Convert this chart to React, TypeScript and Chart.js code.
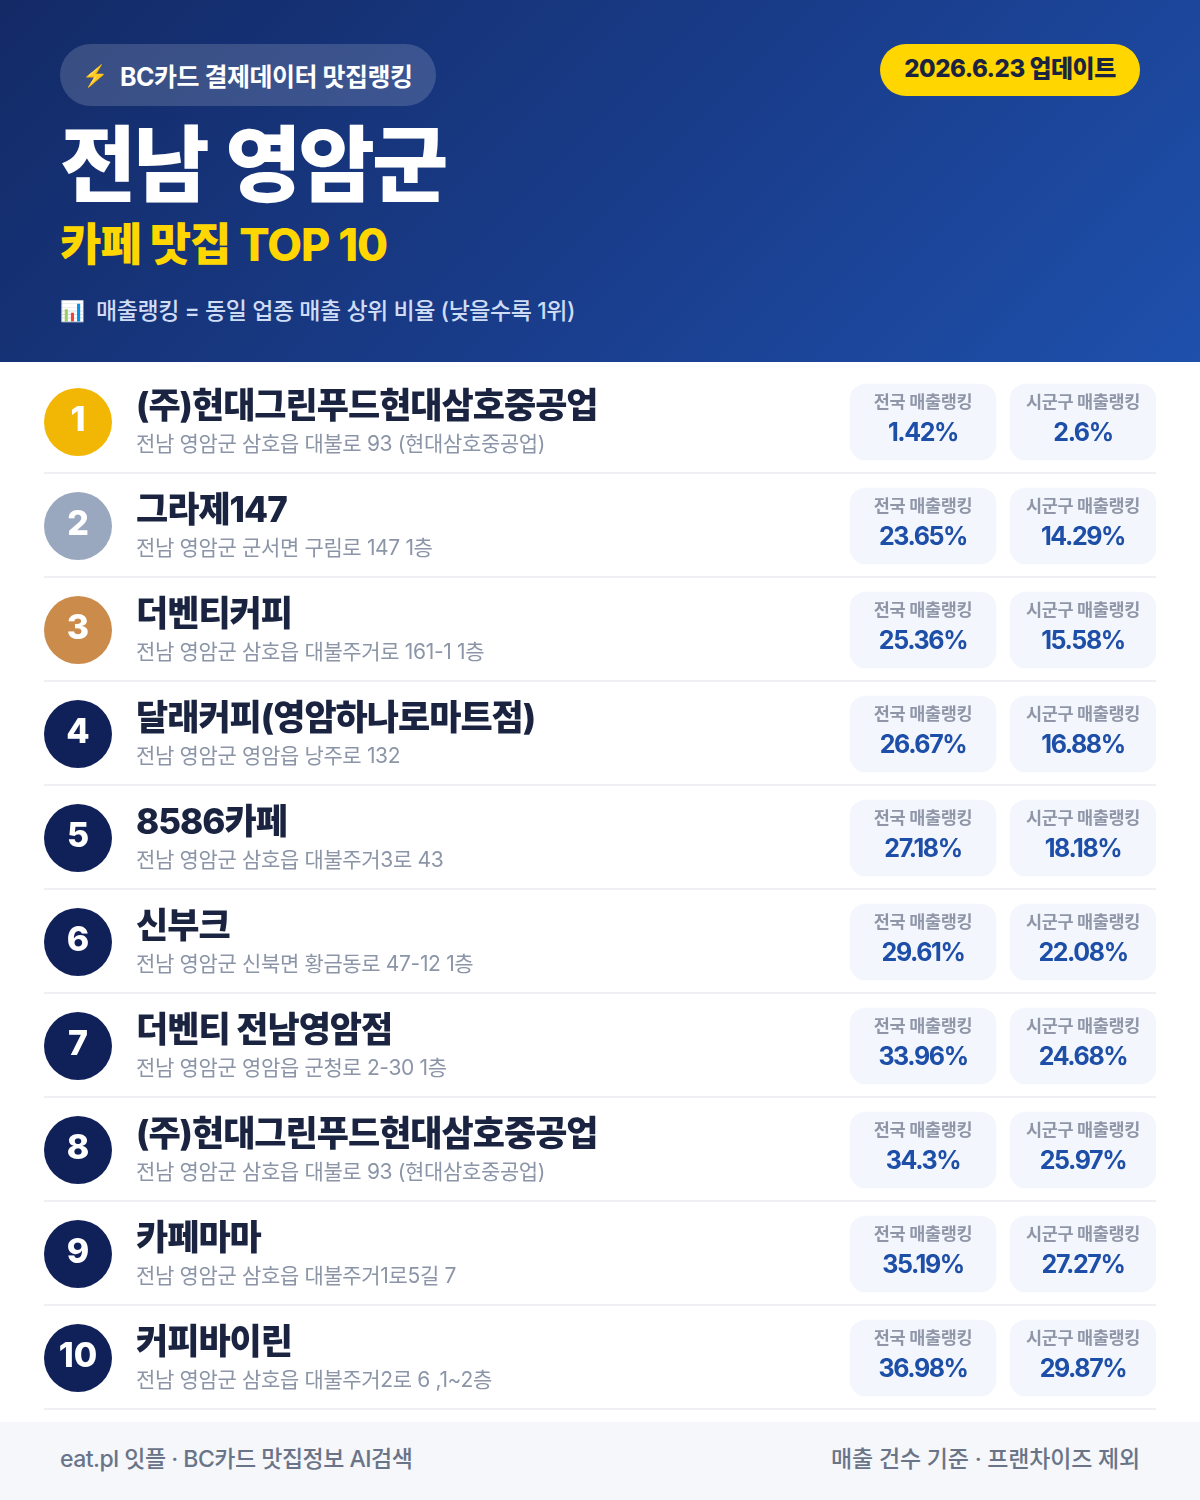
import { useEffect, useRef } from "react";
import { Chart, registerables } from "chart.js";

Chart.register(...registerables);

const FONT = 'Inter, "Noto Sans CJK KR", sans-serif';

const storeNames = [
  "(주)현대그린푸드현대삼호중공업",
  "그라제147",
  "더벤티커피",
  "달래커피(영암하나로마트점)",
  "8586카페",
  "신부크",
  "더벤티 전남영암점",
  "(주)현대그린푸드현대삼호중공업",
  "카페마마",
  "커피바이린",
];
const addresses = [
  "전남 영암군 삼호읍 대불로 93 (현대삼호중공업)",
  "전남 영암군 군서면 구림로 147 1층",
  "전남 영암군 삼호읍 대불주거로 161-1 1층",
  "전남 영암군 영암읍 낭주로 132",
  "전남 영암군 삼호읍 대불주거3로 43",
  "전남 영암군 신북면 황금동로 47-12 1층",
  "전남 영암군 영암읍 군청로 2-30 1층",
  "전남 영암군 삼호읍 대불로 93 (현대삼호중공업)",
  "전남 영암군 삼호읍 대불주거1로5길 7",
  "전남 영암군 삼호읍 대불주거2로 6 ,1~2층",
];
const nationalRank = [1.42, 23.65, 25.36, 26.67, 27.18, 29.61, 33.96, 34.3, 35.19, 36.98];
const districtRank = [2.6, 14.29, 15.58, 16.88, 18.18, 22.08, 24.68, 25.97, 27.27, 29.87];

// x positions are canvas px, the canvas starts at x=44
const CIRCLE_X = 34;
const TEXT_X = 92;
const NATIONAL_CARD = [806, 952];
const DISTRICT_CARD = [966, 1112];

const rankColor = (i: number) =>
  i === 0 ? "#F2B705" : i === 1 ? "#9AA8BF" : i === 2 ? "#CB8B4B" : "#10215A";

const rowRules = {
  id: "rowRules",
  beforeDatasetsDraw(chart: any) {
    const { ctx, scales, chartArea } = chart;
    ctx.save();
    ctx.fillStyle = "#EEF0F4";
    storeNames.forEach((_, i) => {
      ctx.fillRect(chartArea.left, scales.y.getPixelForValue(i) + 50, chartArea.width, 2);
    });
    ctx.restore();
  },
};

const rowText = {
  id: "rowText",
  afterDatasetsDraw(chart: any) {
    const { ctx, scales } = chart;
    const x = scales.x;
    const y = scales.y;
    ctx.save();
    ctx.textBaseline = "alphabetic";
    storeNames.forEach((name, i) => {
      const cy = y.getPixelForValue(i);

      ctx.textAlign = "center";
      ctx.fillStyle = "#ffffff";
      ctx.font = `800 34px ${FONT}`;
      ctx.letterSpacing = "0px";
      ctx.fillText(String(i + 1), x.getPixelForValue(CIRCLE_X), cy + 9);

      ctx.textAlign = "left";
      ctx.fillStyle = "#1A2340";
      ctx.font = `800 35px ${FONT}`;
      ctx.letterSpacing = "-1px";
      ctx.fillText(name, x.getPixelForValue(TEXT_X), cy - 4);

      ctx.fillStyle = "#8B95A7";
      ctx.font = `400 21px ${FONT}`;
      ctx.letterSpacing = "-0.35px";
      ctx.fillText(addresses[i], x.getPixelForValue(TEXT_X), cy + 29);

      ctx.textAlign = "center";
      [
        { range: NATIONAL_CARD, label: "전국 매출랭킹", value: nationalRank[i] },
        { range: DISTRICT_CARD, label: "시군구 매출랭킹", value: districtRank[i] },
      ].forEach((card) => {
        const mid = x.getPixelForValue((card.range[0] + card.range[1]) / 2);
        ctx.fillStyle = "#8F96A8";
        ctx.font = `700 17.5px ${FONT}`;
        ctx.letterSpacing = "-0.35px";
        ctx.fillText(card.label, mid, cy - 14);
        ctx.fillStyle = "#1E4FA8";
        ctx.font = `700 25px ${FONT}`;
        ctx.letterSpacing = "-1.4px";
        ctx.fillText(`${card.value}%`, mid, cy + 19);
      });
    });
    ctx.restore();
  },
};

function RankingChart() {
  const canvasRef = useRef<HTMLCanvasElement>(null);

  useEffect(() => {
    if (!canvasRef.current) return;
    const chart = new Chart(canvasRef.current, {
      type: "bar",
      data: {
        labels: storeNames,
        datasets: [
          {
            type: "scatter",
            label: "순위",
            data: storeNames.map((_, i) => ({ x: CIRCLE_X, y: i })),
            pointRadius: 34,
            pointHoverRadius: 34,
            pointBackgroundColor: storeNames.map((_, i) => rankColor(i)),
            pointBorderWidth: 0,
            clip: false,
          },
          {
            label: "전국 매출랭킹",
            indexAxis: "y",
            data: nationalRank.map(() => NATIONAL_CARD),
            backgroundColor: "#F3F6FC",
            borderRadius: 16,
            borderSkipped: false,
            barThickness: 76,
            grouped: false,
          },
          {
            label: "시군구 매출랭킹",
            indexAxis: "y",
            data: districtRank.map(() => DISTRICT_CARD),
            backgroundColor: "#F3F6FC",
            borderRadius: 16,
            borderSkipped: false,
            barThickness: 76,
            grouped: false,
          },
        ] as any,
      },
      options: {
        animation: false,
        responsive: false,
        events: [],
        layout: { autoPadding: false, padding: { top: 8, bottom: 12 } },
        plugins: { legend: { display: false }, tooltip: { enabled: false } },
        scales: {
          x: { type: "linear", min: 0, max: 1112, offset: false, display: false },
          y: {
            type: "category",
            offset: true,
            border: { display: false },
            ticks: { display: false },
            grid: { display: false, drawTicks: false },
          },
        },
      },
      plugins: [rowRules, rowText],
    } as any);
    return () => chart.destroy();
  }, []);

  return (
    <canvas
      ref={canvasRef}
      width={1112}
      height={1060}
      style={{ position: "absolute", left: 44, top: 362, width: 1112, height: 1060 }}
    />
  );
}

export default function App() {
  useEffect(() => {
    document.body.style.margin = "0";
  }, []);

  return (
    <div
      style={{
        position: "relative",
        width: 1200,
        height: 1500,
        overflow: "hidden",
        background: "#fff",
        fontFamily: FONT,
      }}
    >
      <div
        style={{
          position: "absolute",
          left: 0,
          top: 0,
          width: 1200,
          height: 362,
          background: "linear-gradient(135deg, #132A66 0%, #1A3F8F 60%, #1E50AC 100%)",
        }}
      >
        <div
          style={{
            position: "absolute",
            left: 60,
            top: 44,
            width: 376,
            height: 62,
            borderRadius: 31,
            background: "rgba(255,255,255,0.16)",
          }}
        />
        <div style={{ position: "absolute", left: 82, top: 58, fontSize: 21, lineHeight: "36px", color: "#FFD600" }}>
          ⚡
        </div>
        <div
          style={{
            position: "absolute",
            left: 120,
            top: 59,
            fontSize: 25,
            lineHeight: "36px",
            fontWeight: 700,
            letterSpacing: -0.5,
            color: "#fff",
            whiteSpace: "nowrap",
          }}
        >
          BC카드 결제데이터 맛집랭킹
        </div>
        <div
          style={{
            position: "absolute",
            left: 880,
            top: 44,
            width: 260,
            height: 52,
            borderRadius: 26,
            background: "#FFD600",
            color: "#1A2340",
            fontSize: 24,
            fontWeight: 800,
            letterSpacing: -0.5,
            lineHeight: "50px",
            textAlign: "center",
            whiteSpace: "nowrap",
          }}
        >
          2026.6.23 업데이트
        </div>
        <div
          style={{
            position: "absolute",
            left: 60,
            top: 111,
            fontSize: 83,
            lineHeight: "108px",
            fontWeight: 900,
            letterSpacing: -3,
            wordSpacing: 5,
            color: "#fff",
            whiteSpace: "nowrap",
          }}
        >
          전남 영암군
        </div>
        <div
          style={{
            position: "absolute",
            left: 60,
            top: 213,
            fontSize: 45,
            lineHeight: "64px",
            fontWeight: 800,
            letterSpacing: -1,
            color: "#FFD600",
            whiteSpace: "nowrap",
          }}
        >
          카페 맛집 TOP 10
        </div>
        <div style={{ position: "absolute", left: 60, top: 293, fontSize: 20, lineHeight: "36px" }}>📊</div>
        <div
          style={{
            position: "absolute",
            left: 96,
            top: 293,
            fontSize: 23,
            lineHeight: "36px",
            fontWeight: 500,
            letterSpacing: -0.45,
            color: "#CFDCF5",
            whiteSpace: "nowrap",
          }}
        >
          매출랭킹 = 동일 업종 매출 상위 비율 (낮을수록 1위)
        </div>
      </div>

      <RankingChart />

      <div
        style={{
          position: "absolute",
          left: 0,
          top: 1422,
          width: 1200,
          height: 78,
          background: "#F5F7FA",
          fontSize: 23,
          fontWeight: 500,
          color: "#6A7489",
          lineHeight: "74px",
        }}
      >
        <span style={{ position: "absolute", left: 60, letterSpacing: -0.5, whiteSpace: "nowrap" }}>
          eat.pl 잇플 · BC카드 맛집정보 AI검색
        </span>
        <span style={{ position: "absolute", right: 60, letterSpacing: -0.2, whiteSpace: "nowrap" }}>
          매출 건수 기준 · 프랜차이즈 제외
        </span>
      </div>
    </div>
  );
}
